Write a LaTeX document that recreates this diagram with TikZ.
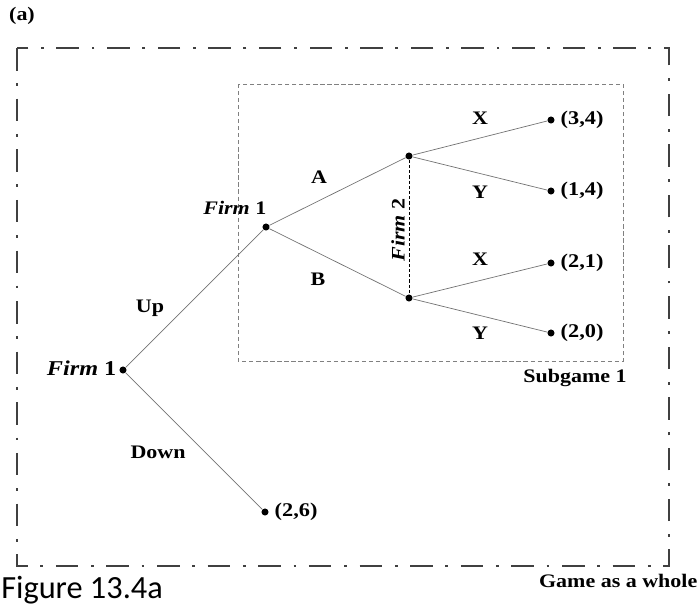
\documentclass[tikz,border=0pt]{standalone}
\usepackage{fontspec}
\setmainfont{Liberation Serif}[FakeStretch=1.15]
\newfontfamily\captionfont{Carlito}
\usepackage{tikz}
\usetikzlibrary{positioning}
\tikzset{
  choice/.style={
    circle,
    fill=black,
    inner sep=0pt,
    minimum size=5pt
  },
  payoff/.style={
    font=\fontsize{13.8}{15}\selectfont\bfseries,
    inner sep=1pt
  },
  movelbl/.style={
    font=\fontsize{13.6}{15}\selectfont\bfseries,
    inner sep=1pt
  },
  branch/.style={draw=black!55,line width=0.5pt},
  infoset/.style={draw=black,line width=0.45pt,dash pattern=on 2.2pt off 1.5pt},
  gamebox/.style={draw=black!75,line width=1.1pt,dash pattern=on 16pt off 9pt on 2pt off 9pt},
  subbox/.style={draw=black!50,line width=0.7pt,dash pattern=on 3pt off 2pt}
}
\newcommand{\firmlbl}[1]{\textbf{\textit{Firm}} \textbf{#1}}

\begin{document}
\begin{tikzpicture}[x=0.025cm,y=-0.025cm]
\useasboundingbox (0,0) rectangle (700,608);
% frames
\draw[gamebox] (17,48) rectangle (669,566);
\draw[subbox] (238,84) rectangle (623,361);
% decision nodes
\node[choice] (root) at (123,370) {};
\node[choice] (firmone) at (266,227) {};
\node[choice] (upper) at (409,156) {};
\node[choice] (lower) at (409,298) {};
% end nodes
\node[choice] (xa) at (551,120) {};
\node[choice] (ya) at (551,191) {};
\node[choice] (xb) at (551,263) {};
\node[choice] (yb) at (551,333) {};
\node[choice] (down) at (265,512) {};
\node[payoff,right=3pt of xa] (pxa) {(3,4)};
\node[payoff,right=3pt of ya] (pya) {(1,4)};
\node[payoff,right=3pt of xb] (pxb) {(2,1)};
\node[payoff,right=3pt of yb] (pyb) {(2,0)};
\node[payoff,right=3pt of down] (pdown) {(2,6)};
% players
\node[movelbl,font=\fontsize{15}{17}\selectfont,anchor=base east] (rootlbl) at (118,375) {\firmlbl{1}};
\node[movelbl,anchor=base east] (firmonelbl) at (268,214) {\firmlbl{1}};
\node[movelbl,rotate=90] (firmtwolbl) at (398,230) {\firmlbl{2}};
% branches
\draw[branch] (root)--(firmone);
\draw[branch] (root)--(down);
\draw[branch] (firmone)--(upper);
\draw[branch] (firmone)--(lower);
\draw[branch] (upper)--(xa);
\draw[branch] (upper)--(ya);
\draw[branch] (lower)--(xb);
\draw[branch] (lower)--(yb);
\draw[infoset] (upper)--(lower);
% moves
\node[movelbl] (uplbl) at (150,308) {Up};
\node[movelbl] (downlbl) at (158,452) {Down};
\node[movelbl] (albl) at (319,177) {A};
\node[movelbl] (blbl) at (318,279) {B};
\node[movelbl] (xalbl) at (480,118) {X};
\node[movelbl] (yalbl) at (480,192) {Y};
\node[movelbl] (xblbl) at (480,259) {X};
\node[movelbl] (yblbl) at (480,333) {Y};
% titles
\node[movelbl] (tag) at (22,16) {(a)};
\node[movelbl] (sublbl) at (575,378) {Subgame 1};
\node[movelbl,anchor=east] (wholelbl) at (699,581) {Game as a whole};
\node[font=\captionfont\fontsize{23}{26}\selectfont,anchor=west,inner sep=0pt] (caption) at (1,590) {Figure 13.4a};
\end{tikzpicture}
\end{document}
